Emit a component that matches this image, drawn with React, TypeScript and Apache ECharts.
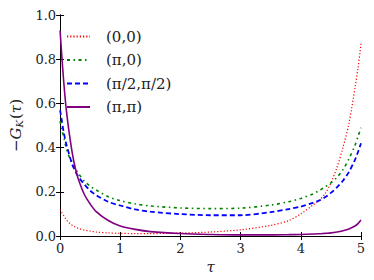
import React, { useEffect, useRef } from "react";
import * as echarts from "echarts";

const tau = [0, 0.03, 0.06, 0.1, 0.15, 0.2, 0.25, 0.3, 0.4, 0.5, 0.6, 0.8, 1.0, 1.25, 1.5, 2.0, 2.5, 3.0, 3.5, 3.8, 4.0, 4.2, 4.3, 4.4, 4.5, 4.6, 4.7, 4.8, 4.9, 4.95, 5.0];

const g00 = [0.12, 0.105, 0.092, 0.075, 0.06, 0.049, 0.041, 0.035, 0.027, 0.022, 0.018, 0.014, 0.012, 0.011, 0.011, 0.013, 0.018, 0.028, 0.048, 0.07, 0.1, 0.14, 0.16, 0.19, 0.24, 0.31, 0.4, 0.51, 0.67, 0.76, 0.87];
const gPi0 = [0.52, 0.48, 0.45, 0.4, 0.36, 0.335, 0.31, 0.285, 0.25, 0.225, 0.208, 0.178, 0.16, 0.145, 0.136, 0.127, 0.124, 0.126, 0.14, 0.155, 0.17, 0.19, 0.205, 0.222, 0.24, 0.265, 0.3, 0.35, 0.41, 0.45, 0.49];
const gHalf = [0.57, 0.52, 0.47, 0.42, 0.37, 0.325, 0.295, 0.27, 0.235, 0.205, 0.185, 0.155, 0.138, 0.12, 0.11, 0.099, 0.094, 0.094, 0.108, 0.122, 0.133, 0.15, 0.16, 0.175, 0.195, 0.22, 0.25, 0.29, 0.345, 0.38, 0.42];
const gPiPi = [0.93, 0.81, 0.7, 0.58, 0.47, 0.38, 0.31, 0.26, 0.19, 0.145, 0.11, 0.07, 0.045, 0.03, 0.02, 0.011, 0.007, 0.005, 0.005, 0.006, 0.007, 0.009, 0.01, 0.012, 0.014, 0.018, 0.024, 0.032, 0.045, 0.056, 0.072];

const names = ["(0,0)", "(π,0)", "(π/2,π/2)", "(π,π)"];

const FONT = "DejaVu Serif";

export default function App() {
  const ref = useRef<HTMLDivElement>(null);
  useEffect(() => {
    if (!ref.current) return;
    const chart = echarts.init(ref.current, undefined, { renderer: "svg" });
    const pairs = (vals: number[]) => tau.map((t, i) => [t, vals[i]]);
    const styles = [
      { color: "#ff0000", width: 1.2, type: [1.2, 2] },
      { color: "#008000", width: 1.6, type: [3, 3.5, 1.5, 3.5] },
      { color: "#0000ff", width: 1.8, type: [5, 3] },
      { color: "#800080", width: 1.6, type: "solid" },
    ];
    const data = [g00, gPi0, gHalf, gPiPi];
    const axisCommon = {
      axisLine: { show: true, lineStyle: { color: "#000", width: 1 } },
      axisTick: { show: true, inside: true, length: 4, lineStyle: { color: "#000" } },
      splitLine: { show: false },
    };
    chart.setOption({
      animation: false,
      textStyle: { fontFamily: FONT },
      grid: { left: 48, right: 13, top: 15, bottom: 44, containLabel: false },
      legend: {
        orient: "vertical",
        left: 66,
        top: 29,
        padding: 0,
        itemWidth: 23,
        itemHeight: 14,
        itemGap: 8.5,
        data: names,
        itemStyle: { opacity: 0 },
        textStyle: { fontFamily: FONT, fontSize: 15, color: "#222", padding: [0, 0, 0, 11] },
      },
      xAxis: [
        {
          type: "value",
          min: 0,
          max: 5,
          interval: 1,
          name: "τ",
          nameLocation: "middle",
          nameGap: 23,
          nameTextStyle: { fontFamily: FONT, fontSize: 15, fontStyle: "italic", color: "#222" },
          axisLabel: { fontFamily: FONT, fontSize: 13, color: "#222", margin: 6 },
          ...axisCommon,
        },
        {
          type: "value",
          position: "top",
          min: 0,
          max: 5,
          interval: 1,
          axisLabel: { show: false },
          ...axisCommon,
        },
      ],
      yAxis: [
        {
          type: "value",
          min: 0,
          max: 1,
          interval: 0.2,
          name: "{m|−}{i|G}{s|K}{a|(}{i|τ}{a|)}",
          nameLocation: "middle",
          nameRotate: 90,
          nameGap: 29,
          nameTextStyle: {
            fontFamily: FONT,
            fontSize: 15,
            color: "#222",
            rich: {
              m: { fontFamily: FONT, fontSize: 15, color: "#222" },
              a: { fontFamily: FONT, fontSize: 15, color: "#222" },
              i: { fontFamily: FONT, fontSize: 15, fontStyle: "italic", color: "#222" },
              s: { fontFamily: FONT, fontSize: 10, fontStyle: "italic", color: "#222", padding: [8, 1, 0, 0] },
            },
          },
          axisLabel: {
            fontFamily: FONT,
            fontSize: 13,
            color: "#222",
            margin: 4,
            formatter: (v: number) => v.toFixed(1),
          },
          ...axisCommon,
        },
        {
          type: "value",
          position: "right",
          min: 0,
          max: 1,
          interval: 0.2,
          axisLabel: { show: false },
          ...axisCommon,
        },
      ],
      series: names.map((n, i) => ({
        name: n,
        type: "line",
        xAxisIndex: 0,
        yAxisIndex: 0,
        data: pairs(data[i]),
        smooth: 0.3,
        showSymbol: false,
        symbol: "none",
        lineStyle: styles[i],
        itemStyle: { color: styles[i].color },
      })),
    });
    return () => chart.dispose();
  }, []);
  return <div ref={ref} style={{ width: 374, height: 280, position: "absolute", left: 0, top: 0 }} />;
}
